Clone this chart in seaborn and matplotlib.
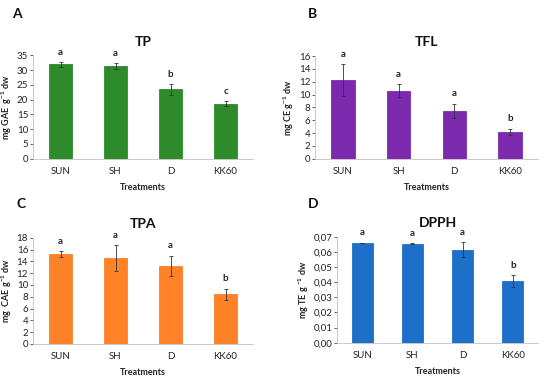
import matplotlib
matplotlib.use("Agg")
from matplotlib import pyplot as plt
import seaborn as sns
import pandas as pd

treatments = ["SUN", "SH", "D", "KK60"]

tp_mean = [32.0, 31.5, 23.5, 18.7]
tp_err = [0.8, 1.0, 1.9, 0.8]
tp_letters = ["a", "a", "b", "c"]

tfl_mean = [12.3, 10.6, 7.5, 4.2]
tfl_err = [2.5, 1.0, 1.1, 0.5]
tfl_letters = ["a", "a", "a", "b"]

tpa_mean = [15.2, 14.6, 13.3, 8.4]
tpa_err = [0.5, 2.2, 1.7, 1.0]
tpa_letters = ["a", "a", "a", "b"]

dpph_mean = [0.066, 0.0655, 0.0615, 0.0405]
dpph_err = [0.0002, 0.0003, 0.005, 0.004]
dpph_letters = ["a", "a", "a", "b"]

sns.set_style("white")
plt.rcParams["font.family"] = ["Lato", "DejaVu Sans"]
plt.rcParams["mathtext.fontset"] = "custom"
plt.rcParams["mathtext.rm"] = "Lato"
plt.rcParams["mathtext.bf"] = "Lato:bold"

fig = plt.figure(figsize=(5.5, 3.77), dpi=100)

panels = [
    ("A", "TP", tp_mean, tp_err, tp_letters, "#2E8B2A", r"mg GAE  g$^{\mathbf{-1}}$ dw",
     (0.06, 0.579, 0.40, 0.274), (0, 35), 5, "{:.0f}", (0.022, 0.98)),
    ("B", "TFL", tfl_mean, tfl_err, tfl_letters, "#7B2AAE", r"mg CE g$^{\mathbf{-1}}$ dw",
     (0.573, 0.579, 0.405, 0.272), (0, 16), 2, "{:.0f}", (0.56, 0.98)),
    ("C", "TPA", tpa_mean, tpa_err, tpa_letters, "#FF8128", r"mg  CAE g$^{\mathbf{-1}}$ dw",
     (0.06, 0.088, 0.40, 0.281), (0, 18), 2, "{:.0f}", (0.03, 0.475)),
    ("D", "DPPH", dpph_mean, dpph_err, dpph_letters, "#1E6FC8", r"mg TE g $^{\mathbf{-1}}$ dw",
     (0.613, 0.091, 0.365, 0.281), (0, 0.07), 0.01, "{:.2f}", (0.56, 0.475)),
]

for tag, title, mean, err, letters, color, ylabel, pos, ylim, step, fmt, tagpos in panels:
    ax = fig.add_axes(pos)
    df = pd.DataFrame({"Treatment": treatments, "Value": mean, "Err": err})
    sns.barplot(data=df, x="Treatment", y="Value", color=color, width=0.42,
                edgecolor=color, linewidth=0.6, saturation=1, ax=ax)
    ax.errorbar(range(len(treatments)), df["Value"], yerr=df["Err"], fmt="none",
                ecolor="#333333", elinewidth=0.6, capsize=1.5, capthick=0.6)
    span = ylim[1] - ylim[0]
    for i, (m, e, l) in enumerate(zip(mean, err, letters)):
        ax.text(i, m + e + span * 0.05, l, ha="center", va="bottom",
                fontsize=7, fontweight="bold", color="#222222")
    ax.set_ylim(*ylim)
    n = int(round(span / step))
    ticks = [ylim[0] + k * step for k in range(n + 1)]
    ax.set_yticks(ticks)
    ax.set_yticklabels([fmt.format(t).replace(".", ",") for t in ticks])
    ax.set_xlim(-0.5, len(treatments) - 0.5)
    ax.tick_params(axis="both", labelsize=7, colors="#222222", length=2, width=0.5)
    ax.tick_params(axis="y", direction="out", left=True, pad=1.5)
    ax.tick_params(axis="x", bottom=False, pad=4)
    for s in ["top", "right"]:
        ax.spines[s].set_visible(False)
    for s in ["left", "bottom"]:
        ax.spines[s].set_color("#BFBFBF")
        ax.spines[s].set_linewidth(0.6)
    ax.set_xlabel("Treatments", fontsize=6.5, fontweight="bold", color="#222222", labelpad=5)
    ax.set_ylabel(ylabel, fontsize=6.5, fontweight="bold", color="#222222", labelpad=2)
    ax.set_title(title, fontsize=10, fontweight="bold", color="#111111", pad=7)
    fig.text(tagpos[0], tagpos[1], tag, fontsize=10, fontweight="bold", va="top", color="#111111")

fig.savefig("out.png", dpi=100)
